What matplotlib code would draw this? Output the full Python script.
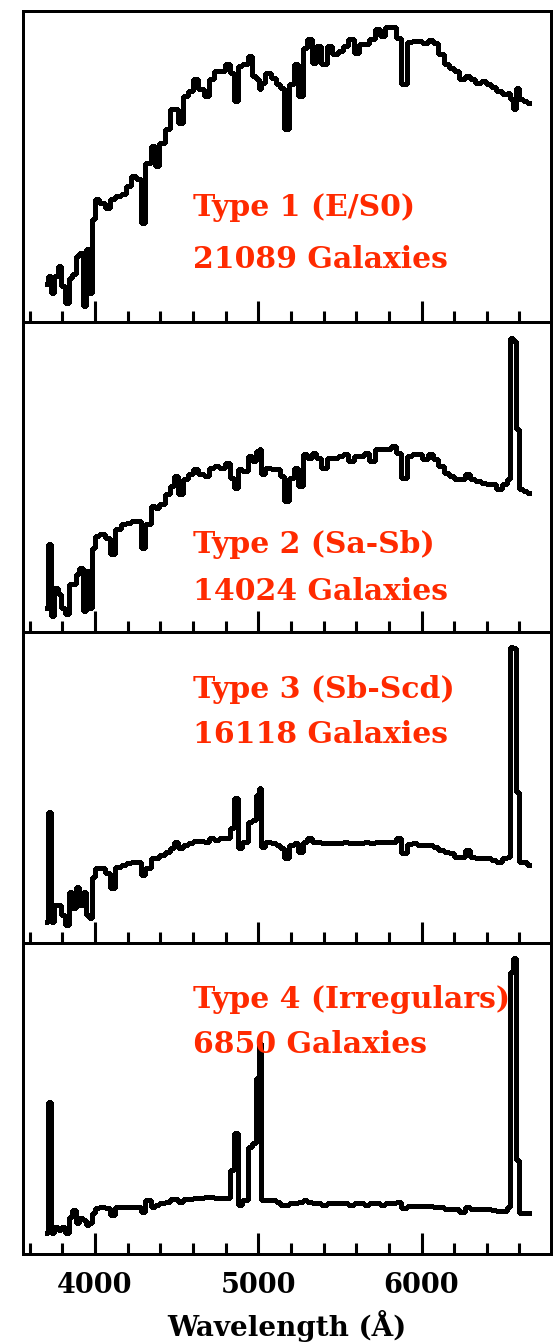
import numpy as np
import matplotlib
matplotlib.use("Agg")
import matplotlib.pyplot as plt
from matplotlib.ticker import MultipleLocator, FixedLocator

# composite galaxy spectra, rest frame wavelength (Angstrom), arbitrary flux units
wave = [3704, 3725, 3741, 3762, 3784, 3805, 3827, 3849, 3870, 3892,
        3914, 3935, 3957, 3974, 3989, 4011, 4043, 4076, 4108, 4141,
        4173, 4205, 4238, 4270, 4292, 4324, 4357, 4378, 4411, 4443,
        4476, 4497, 4525, 4551, 4584, 4616, 4649, 4681, 4713, 4746,
        4778, 4811, 4839, 4860, 4886, 4919, 4951, 4973, 4995, 5010,
        5027, 5059, 5092, 5124, 5146, 5172, 5200, 5232, 5260, 5286,
        5314, 5340, 5373, 5401, 5438, 5470, 5503, 5535, 5567, 5600,
        5632, 5665, 5697, 5730, 5762, 5794, 5827, 5859, 5894, 5924,
        5957, 5989, 6021, 6054, 6086, 6119, 6151, 6184, 6216, 6248,
        6281, 6313, 6346, 6378, 6411, 6443, 6475, 6508, 6536, 6551,
        6568, 6586, 6605, 6633, 6659]

flux_type1 = [0.38, 0.46, 0.29, 0.46, 0.56, 0.36, 0.19, 0.44, 0.48, 0.66,
              0.69, 0.16, 0.73, 0.29, 1.03, 1.23, 1.19, 1.14, 1.23, 1.26,
              1.28, 1.36, 1.46, 1.43, 0.99, 1.59, 1.76, 1.56, 1.79, 1.93,
              2.13, 2.13, 1.99, 2.26, 2.31, 2.43, 2.33, 2.26, 2.43, 2.51,
              2.51, 2.58, 2.49, 2.21, 2.56, 2.58, 2.66, 2.46, 2.43, 2.33,
              2.39, 2.49, 2.44, 2.38, 2.34, 1.93, 2.38, 2.58, 2.26, 2.74,
              2.83, 2.59, 2.76, 2.58, 2.76, 2.68, 2.71, 2.76, 2.83, 2.69,
              2.78, 2.78, 2.83, 2.93, 2.86, 2.95, 2.95, 2.84, 2.38, 2.80,
              2.81, 2.81, 2.79, 2.82, 2.79, 2.68, 2.58, 2.54, 2.51, 2.43,
              2.46, 2.43, 2.39, 2.41, 2.38, 2.35, 2.31, 2.28, 2.29, 2.23,
              2.13, 2.34, 2.23, 2.21, 2.19]

flux_type2 = [0.25, 0.89, 0.17, 0.45, 0.39, 0.25, 0.19, 0.49, 0.49, 0.59,
              0.65, 0.22, 0.62, 0.25, 0.85, 0.97, 0.99, 0.95, 0.79, 1.04,
              1.09, 1.10, 1.12, 1.12, 0.85, 1.09, 1.27, 1.25, 1.29, 1.39,
              1.47, 1.57, 1.39, 1.54, 1.59, 1.64, 1.59, 1.57, 1.65, 1.67,
              1.65, 1.70, 1.55, 1.45, 1.64, 1.62, 1.77, 1.72, 1.82, 1.84,
              1.59, 1.65, 1.64, 1.64, 1.57, 1.32, 1.55, 1.65, 1.47, 1.79,
              1.75, 1.80, 1.75, 1.65, 1.75, 1.75, 1.77, 1.79, 1.72, 1.77,
              1.77, 1.80, 1.72, 1.84, 1.84, 1.84, 1.87, 1.80, 1.55, 1.77,
              1.79, 1.79, 1.74, 1.79, 1.74, 1.67, 1.60, 1.57, 1.54, 1.54,
              1.59, 1.54, 1.52, 1.50, 1.49, 1.49, 1.44, 1.49, 1.54, 2.95,
              2.92, 2.04, 1.44, 1.42, 1.40]

flux_type3 = [0.21, 1.31, 0.21, 0.38, 0.38, 0.28, 0.18, 0.51, 0.35, 0.56,
              0.38, 0.51, 0.28, 0.25, 0.66, 0.75, 0.75, 0.70, 0.55, 0.76,
              0.78, 0.80, 0.81, 0.81, 0.68, 0.75, 0.85, 0.85, 0.88, 0.91,
              0.95, 1.01, 0.95, 0.98, 1.00, 1.02, 1.02, 1.01, 1.05, 1.03,
              1.05, 1.05, 1.15, 1.45, 0.95, 1.01, 1.21, 1.23, 1.48, 1.55,
              0.96, 1.01, 1.00, 0.98, 0.95, 0.85, 0.98, 1.00, 0.91, 1.01,
              1.05, 1.01, 1.01, 1.00, 1.00, 1.00, 1.00, 1.01, 1.00, 1.00,
              1.00, 1.01, 1.00, 1.01, 1.01, 1.01, 1.01, 1.05, 0.90, 0.99,
              1.00, 0.98, 0.98, 0.98, 0.96, 0.93, 0.91, 0.90, 0.86, 0.86,
              0.93, 0.86, 0.85, 0.85, 0.85, 0.83, 0.81, 0.85, 0.86, 2.96,
              2.95, 1.51, 0.81, 0.81, 0.78]

flux_type4 = [0.21, 1.52, 0.21, 0.27, 0.24, 0.27, 0.21, 0.37, 0.44, 0.31,
              0.36, 0.34, 0.29, 0.31, 0.41, 0.46, 0.47, 0.46, 0.39, 0.47,
              0.47, 0.47, 0.47, 0.47, 0.42, 0.54, 0.47, 0.49, 0.51, 0.52,
              0.55, 0.55, 0.52, 0.55, 0.55, 0.56, 0.56, 0.57, 0.57, 0.56,
              0.56, 0.56, 0.84, 1.21, 0.49, 0.54, 1.07, 1.11, 1.76, 2.11,
              0.54, 0.54, 0.54, 0.52, 0.49, 0.49, 0.51, 0.51, 0.52, 0.54,
              0.52, 0.51, 0.51, 0.49, 0.51, 0.51, 0.51, 0.51, 0.49, 0.51,
              0.51, 0.49, 0.51, 0.51, 0.49, 0.51, 0.51, 0.52, 0.46, 0.48,
              0.48, 0.48, 0.48, 0.48, 0.47, 0.47, 0.45, 0.45, 0.45, 0.42,
              0.47, 0.45, 0.45, 0.45, 0.45, 0.44, 0.43, 0.43, 0.47, 2.82,
              2.96, 0.94, 0.41, 0.41, 0.41]

type_names = ["Type 1 (E/S0)", "Type 2 (Sa-Sb)", "Type 3 (Sb-Scd)", "Type 4 (Irregulars)"]
n_galaxies = [21089, 14024, 16118, 6850]
major_ticks = [4000, 5000, 6000]

spectra = [flux_type1, flux_type2, flux_type3, flux_type4]
# baseline heights (axes fraction) of the two label lines in each panel
label_y = [(0.340, 0.173), (0.256, 0.105), (0.789, 0.644), (0.791, 0.646)]

plt.rcParams['lines.antialiased'] = False
plt.rcParams['patch.antialiased'] = False
plt.rcParams['font.family'] = ['DejaVu Serif']
plt.rcParams['font.weight'] = 'bold'

fig, axes = plt.subplots(4, 1, sharex=True, figsize=(5.53, 13.44), dpi=100)
fig.subplots_adjust(left=0.0416, right=0.9964, top=0.9918, bottom=0.067, hspace=0)

red = '#ff2a00'
for ax, flux, name, ngal, (y1, y2) in zip(axes, spectra, type_names, n_galaxies, label_y):
    ax.plot(wave, flux, color='black', lw=2.2, drawstyle='steps-mid')
    ax.set_xlim(3559, 6793)
    ax.set_ylim(0, 3.11)
    ax.set_yticks([])
    ax.xaxis.set_major_locator(FixedLocator(major_ticks))
    ax.xaxis.set_minor_locator(MultipleLocator(200))
    ax.tick_params(axis='x', which='both', direction='in', top=False, bottom=True,
                   width=2.2, color='black')
    ax.tick_params(axis='x', which='major', length=15, pad=13, labelsize=19.5)
    ax.tick_params(axis='x', which='minor', length=7.6)
    for sp in ax.spines.values():
        sp.set_linewidth(2.0)
    ax.text(0.322, y1, name, transform=ax.transAxes, color=red, fontsize=21.5,
            fontweight='bold', ha='left', va='baseline')
    ax.text(0.322, y2, f"{ngal} Galaxies", transform=ax.transAxes, color=red,
            fontsize=21.5, fontweight='bold', ha='left', va='baseline')

for ax in axes[:-1]:
    ax.tick_params(axis='x', labelbottom=False)

axes[-1].set_xlabel("Wavelength (Å)", fontsize=20, fontweight='bold', labelpad=8)

fig.savefig("out.png", dpi=100)
